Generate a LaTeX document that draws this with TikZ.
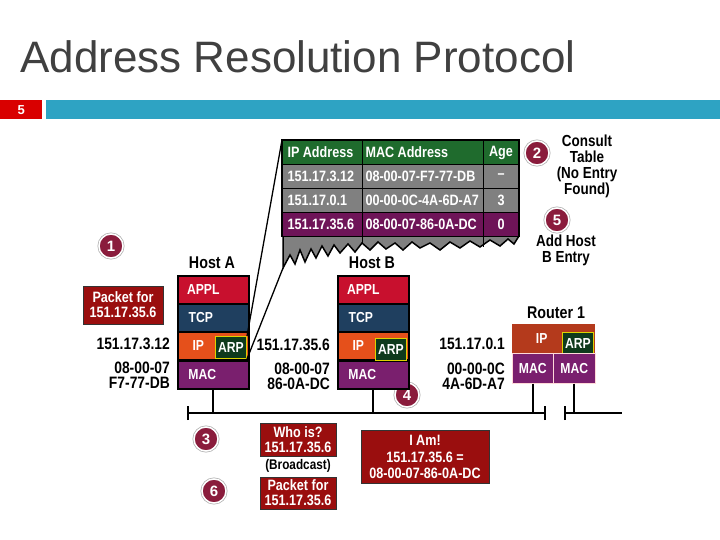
\documentclass[tikz,border=0pt]{standalone}
\usepackage{fontspec}
\setmainfont{Liberation Sans}
\newcommand\nar[1]{\scalebox{0.84}[1]{#1}}
\definecolor{appl}{HTML}{C8102E}
\definecolor{tcp}{HTML}{1F3F5F}
\definecolor{ipc}{HTML}{E5501B}
\definecolor{macc}{HTML}{7A1F6E}
\definecolor{arpc}{HTML}{0F3A1C}
\definecolor{boxr}{HTML}{9A0E0E}
\definecolor{hdrg}{HTML}{1F6B2D}
\definecolor{rowg}{HTML}{808080}
\definecolor{rowp}{HTML}{6E1458}
\definecolor{circ}{HTML}{8A1C3C}
\definecolor{rip}{HTML}{B43A1C}
\definecolor{barb}{HTML}{2EA3C3}
\definecolor{title}{HTML}{404040}
\begin{document}
\begin{tikzpicture}[x=1pt,y=-1pt,
  lay/.style={draw=black,line width=1.6pt,minimum width=71pt,minimum height=28pt,inner sep=0pt,text=white,font=\bfseries\fontsize{14.5}{14}\selectfont},
  arp/.style={draw=yellow!70!olive,line width=1pt,fill=arpc,text=white,inner sep=0pt,minimum width=31pt,minimum height=22pt,font=\bfseries\fontsize{14.5}{14}\selectfont},
  cell/.style={draw=black,line width=1pt,inner sep=0pt,minimum height=24pt,text=white,font=\bfseries\fontsize{15}{14}\selectfont},
  lbl/.style={font=\bfseries\fontsize{16.5}{15}\selectfont,align=right,inner sep=0pt},
  rbox/.style={fill=boxr,draw=black!80,line width=1pt,text=white,align=center,inner sep=0pt,font=\bfseries\fontsize{15}{15}\selectfont},
  num/.style={circle,fill=circ,draw=white,line width=1.5pt,minimum size=24pt,inner sep=0pt,text=white,font=\bfseries\fontsize{15}{14}\selectfont,
     preaction={draw=gray!60,line width=3pt}},
  ttl/.style={font=\bfseries\fontsize{17}{15}\selectfont,inner sep=0pt},
  wire/.style={line width=2pt}]
\useasboundingbox (0,0) rectangle (720,540);
% title
\node[anchor=base west,inner sep=0pt,text=title,font=\fontsize{44}{44}\selectfont] (T) at (20,73) {Address Resolution Protocol};
\node[fill=red!85!black,minimum width=42pt,minimum height=19pt,inner sep=0pt,text=white,anchor=north west,font=\bfseries\fontsize{13}{13}\selectfont] (pg) at (0,100) {5};
\node[fill=barb,minimum width=674pt,minimum height=19pt,inner sep=0pt,anchor=north west] (bar) at (46,100) {};
% table jagged bottom
\fill[rowg] (283,236) -- (283,268) -- (290,255) -- (295,264) -- (300,250) -- (305,262) -- (311,249) -- (316,258) -- (322,246) -- (328,256) -- (334,245) -- (340,253) -- (348,244) -- (355,252) -- (362,243) -- (370,250) -- (378,242) -- (386,249) -- (395,243) -- (403,250) -- (412,242) -- (420,248) -- (430,243) -- (440,250) -- (450,242) -- (460,248) -- (470,241) -- (480,247) -- (490,240) -- (500,246) -- (508,239) -- (514,244) -- (519,236) -- cycle;
\draw[line width=1.5pt] (283,236) -- (283,268) -- (290,255) -- (295,264) -- (300,250) -- (305,262) -- (311,249) -- (316,258) -- (322,246) -- (328,256) -- (334,245) -- (340,253) -- (348,244) -- (355,252) -- (362,243) -- (370,250) -- (378,242) -- (386,249) -- (395,243) -- (403,250) -- (412,242) -- (420,248) -- (430,243) -- (440,250) -- (450,242) -- (460,248) -- (470,241) -- (480,247) -- (490,240) -- (500,246) -- (508,239) -- (514,244) -- (519,236);
\draw[line width=1pt] (362,236) -- (362,243) (483,236) -- (483,247);
\coordinate (tbl) at (283,268);
% table cells
\foreach \y/\c/\a/\b/\g [count=\i] in {140/hdrg/IP Address/MAC Address/Age,164/rowg/151.17.3.12/08-00-07-F7-77-DB/--,188/rowg/151.17.0.1/00-00-0C-4A-6D-A7/3,212/rowp/151.17.35.6/08-00-07-86-0A-DC/0}{
  \node[cell,fill=\c,minimum width=80pt,anchor=north west] (c\i a) at (282,\y) {\makebox[74pt][l]{\hspace{2pt}\nar{\a}}};
  \node[cell,fill=\c,minimum width=121pt,anchor=north west] (c\i b) at (362,\y) {\makebox[117pt][l]{\hspace{1pt}\nar{\b}}};
  \node[cell,fill=\c,minimum width=35pt,anchor=north west] (c\i c) at (483,\y) {\nar{\g}};
}
\draw[line width=2pt] (c4a.south west) -- (c1a.north west) -- (c1c.north east) -- (c4c.south east);
% notes
\node[num] (n2) at (537,153) {2};
\node[num] (n5) at (557,220) {5};
\node[num] (n1) at (111,246) {1};
\node[num] (n4) at (407,395) {4};
\node[num] (n3) at (206,439) {3};
\node[num] (n6) at (214,491) {6};
\node[align=center,font=\bfseries\fontsize{16}{16}\selectfont,inner sep=0pt] (cons) at (587,166) {\nar{Consult}\\\nar{Table}\\\nar{(No Entry}\\\nar{Found)}};
\node[align=center,font=\bfseries\fontsize{16}{16}\selectfont,inner sep=0pt] (add) at (566,250) {\nar{Add Host}\\\nar{B Entry}};
% Host A
\node[ttl] (hA) at (212,263) {\nar{Host A}};
\node[lay,fill=appl,anchor=north west] (aA) at (177,275) {\hspace*{-20pt}\nar{APPL}};
\node[lay,fill=tcp,anchor=north west] (tA) at (177,303) {\hspace*{-25pt}\nar{TCP}};
\node[lay,fill=ipc,anchor=north west] (iA) at (177,331) {\hspace*{-30pt}\nar{IP}};
\node[lay,fill=macc,anchor=north west] (mA) at (177,360) {\hspace*{-22pt}\nar{MAC}};
\node[arp,anchor=north east] (arpA) at (247,336) {\nar{ARP}};
% Host B
\node[ttl] (hB) at (372,263) {\nar{Host B}};
\node[lay,fill=appl,anchor=north west] (aB) at (337,275) {\hspace*{-20pt}\nar{APPL}};
\node[lay,fill=tcp,anchor=north west] (tB) at (337,303) {\hspace*{-25pt}\nar{TCP}};
\node[lay,fill=ipc,anchor=north west] (iB) at (337,331) {\hspace*{-30pt}\nar{IP}};
\node[lay,fill=macc,anchor=north west] (mB) at (337,360) {\hspace*{-22pt}\nar{MAC}};
\node[arp,anchor=north east] (arpB) at (407,338) {\nar{ARP}};
% Router
\node[ttl] (hR) at (556,313) {\nar{Router 1}};
\node[fill=rip,minimum width=83pt,minimum height=29pt,inner sep=0pt,anchor=north west,text=white,font=\bfseries\fontsize{14.5}{14}\selectfont] (iR) at (512,324) {\hspace*{-24pt}\nar{IP}};
\node[arp,anchor=north east] (arpR) at (594,332) {\nar{ARP}};
\node[fill=macc,draw=pink!60,line width=0.6pt,minimum width=41pt,minimum height=30pt,inner sep=0pt,anchor=north west,text=white,font=\bfseries\fontsize{14.5}{14}\selectfont] (m1R) at (512,353) {\nar{MAC}};
\node[fill=macc,draw=pink!60,line width=0.6pt,minimum width=42pt,minimum height=30pt,inner sep=0pt,anchor=north west,text=white,font=\bfseries\fontsize{14.5}{14}\selectfont] (m2R) at (553,353) {\nar{MAC}};
% labels
\node[lbl,anchor=east] (ipA) at (170,344) {\nar{151.17.3.12}};
\node[lbl,anchor=east] (macA) at (170,375) {\nar{08-00-07}\\\nar{F7-77-DB}};
\node[lbl,anchor=east] (ipB) at (330,345) {\nar{151.17.35.6}};
\node[lbl,anchor=east] (macB) at (330,376) {\nar{08-00-07}\\\nar{86-0A-DC}};
\node[lbl,anchor=east] (ipR) at (505,344) {\nar{151.17.0.1}};
\node[lbl,anchor=east] (macR) at (505,376) {\nar{00-00-0C}\\\nar{4A-6D-A7}};
\node[rbox,minimum width=80pt,minimum height=38pt] (pkt) at (123,305) {\nar{Packet for}\\\nar{151.17.35.6}};
% bus
\coordinate (b1) at (188,413); \coordinate (b2) at (545,413);
\coordinate (b3) at (565,413); \coordinate (b4) at (622,413);
\draw[wire] (b1) -- (b2); \draw[wire] (b3) -- (b4);
\draw[wire] ([yshift=-7pt]b1) -- ([yshift=7pt]b1);
\draw[wire] ([yshift=-7pt]b2) -- ([yshift=7pt]b2);
\draw[wire] ([yshift=-7pt]b3) -- ([yshift=7pt]b3);
\draw[wire] (mA.south) -- (mA.south |- b1);
\draw[wire] (mB.south) -- (mB.south |- b1);
\draw[wire] (m1R.south) -- (m1R.south |- b1);
\draw[wire] (m2R.south) -- (m2R.south |- b1);
% connectors to table
\draw[line width=1.3pt] (arpA.north east) -- (c1a.north west);
\draw[line width=1.3pt] (arpA.south east) -- (tbl);
% messages
\node[rbox,minimum width=76pt,minimum height=33pt] (who) at (298,440) {\nar{Who is?}\\\nar{151.17.35.6}};
\node[font=\bfseries\fontsize{14}{13}\selectfont,inner sep=0pt] (bc) at (298,466) {\nar{(Broadcast)}};
\node[rbox,minimum width=76pt,minimum height=32pt] (pk2) at (298,493) {\nar{Packet for}\\\nar{151.17.35.6}};
\node[rbox,minimum width=128pt,minimum height=53pt,font=\bfseries\fontsize{15}{16.5}\selectfont] (iam) at (425,457) {\nar{I Am!}\\\nar{151.17.35.6 =}\\\nar{08-00-07-86-0A-DC}};
\end{tikzpicture}
\end{document}
